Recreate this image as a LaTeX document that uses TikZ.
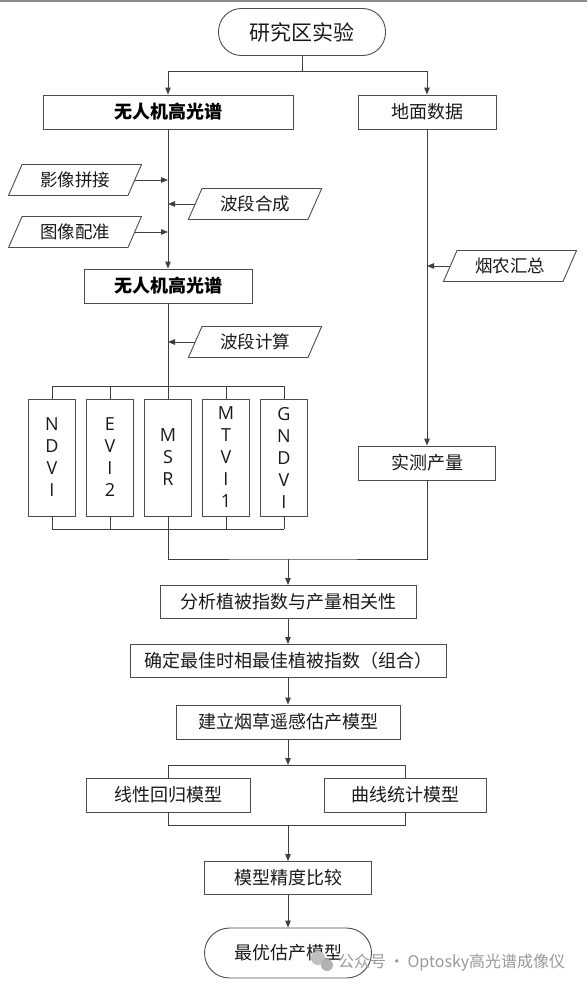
\documentclass[tikz,border=0pt]{standalone}
\usepackage{fontspec}
\setmainfont{Noto Sans CJK SC}
\newfontfamily\latinfont{Open Sans}
\usetikzlibrary{shapes.geometric, arrows.meta}

\tikzset{
  line/.style={draw=black!75, line width=0.9pt},
  arr/.style={-{Triangle[length=7pt,width=5.5pt]}},
  box/.style={draw=black!70, line width=0.9pt, minimum height=34pt, inner sep=0pt,
    text=black!90, font=\fontsize{18}{21}\selectfont},
  boldbox/.style={box, text=black, font=\bfseries\fontsize{18}{21}\selectfont},
  term/.style={box, rounded corners=23pt, minimum width=167pt},
  io/.style={trapezium, trapezium stretches=true, trapezium left angle=61,
    trapezium right angle=119, draw=black!70, line width=0.9pt,
    minimum width=134pt, minimum height=31pt, inner sep=0pt,
    text=black!90, font=\fontsize{17.5}{20}\selectfont},
  vibox/.style={box, minimum width=47pt, minimum height=117pt, align=center,
    font=\latinfont\fontsize{18}{22}\selectfont},
}

\begin{document}
\begin{tikzpicture}[x=1pt, y=-1pt]
\useasboundingbox (0,0) rectangle (587,985);
\draw[black!45, line width=1.5pt] (0,0.75) -- (587,0.75);

% start and the two branches
\node[term, minimum height=47pt, font=\fontsize{21}{24}\selectfont] (start) at (302,32) {研究区实验};
\node[boldbox, minimum width=250pt] (uav1) at (168,112) {无人机高光谱};
\node[box, minimum width=138pt] (ground) at (427,112) {地面数据};

% preprocessing inputs
\node[io] (mosaic) at (75,180) {影像拼接};
\node[io] (compose) at (255,204) {波段合成};
\node[io] (register) at (75,232) {图像配准};
\node[io] (farmer) at (510,266) {烟农汇总};
\node[boldbox, minimum width=168pt] (uav2) at (168,286) {无人机高光谱};
\node[io] (calc) at (255,342) {波段计算};

% vegetation indices
\foreach \txt [count=\i] in {{N\\D\\V\\I},{E\\V\\I\\2},{M\\S\\R},{M\\T\\V\\I\\1},{G\\N\\D\\V\\I}}
  \node[vibox] (vi\i) at ({-6+58*\i},457.5) {\txt};
\node[box, minimum width=137pt] (measured) at (427,463) {实测产量};

% analysis and models
\node[box, minimum width=256pt, minimum height=33pt] (analyze) at (288,602) {分析植被指数与产量相关性};
\node[box, minimum width=316pt, minimum height=33pt] (optimum) at (288,661) {确定最佳时相最佳植被指数（组合）};
\node[box, minimum width=224pt] (build) at (288,722) {建立烟草遥感估产模型};
\node[box, minimum width=164pt] (linear) at (168,795) {线性回归模型};
\node[box, minimum width=162pt] (curve) at (405,795) {曲线统计模型};
\node[box, minimum width=167pt, minimum height=33pt] (compare) at (288,878) {模型精度比较};
\node[term, minimum height=50pt, rounded corners=25pt] (best) at (288,953) {最优估产模型};

% connectors
\coordinate (split) at (302,71);
\draw[line] (start.south) -- (split);
\draw[line, arr] (split) -| (uav1.north);
\draw[line, arr] (split) -| (ground.north);
\draw[line, arr] (uav1.south) -- (uav2.north);
\draw[line, arr] (mosaic.east) -- (mosaic.east -| uav1.south);
\draw[line, arr] (compose.west) -- (compose.west -| uav1.south);
\draw[line, arr] (register.east) -- (register.east -| uav1.south);
\draw[line, arr] (calc.west) -- (calc.west -| uav2.south);
\draw[line, arr] (farmer.west) -- (farmer.west -| ground.south);
\draw[line, arr] (ground.south) -- (measured.north);

\coordinate (vitop) at (168,386);
\coordinate (vibot) at (168,529);
\draw[line] (uav2.south) -- (vitop);
\draw[line] (vi1.north |- vitop) -- (vi5.north |- vitop);
\draw[line] (vi1.south |- vibot) -- (vi5.south |- vibot);
\foreach \i in {1,...,5} {
  \draw[line] (vi\i.north) -- (vi\i.north |- vitop);
  \draw[line] (vi\i.south) -- (vi\i.south |- vibot);
}
\coordinate (merge) at (288,559);
\draw[line] (vibot) |- (merge) -| (measured.south);
\draw[line, arr] (merge) -- (analyze.north);
\draw[line, arr] (analyze.south) -- (optimum.north);
\draw[line, arr] (optimum.south) -- (build.north);

\coordinate (modtop) at (288,765);
\coordinate (modbot) at (288,825);
\draw[line, arr] (build.south) -- (modtop);
\draw[line] (linear.north) -- (linear.north |- modtop) -- (curve.north |- modtop) -- (curve.north);
\draw[line] (linear.south) -- (linear.south |- modbot) -- (curve.south |- modbot) -- (curve.south);
\draw[line, arr] (modbot) -- (compare.north);
\draw[line, arr] (compare.south) -- (best.north);

% watermark
\fill[black!25] (318,958) circle (7pt);
\fill[black!30] (327,965) circle (6pt);
\node[text=black!40, font=\fontsize{16}{19}\selectfont, anchor=west, inner sep=0pt] (mark) at (338,963) {公众号\,·\,Optosky高光谱成像仪};
\end{tikzpicture}
\end{document}
